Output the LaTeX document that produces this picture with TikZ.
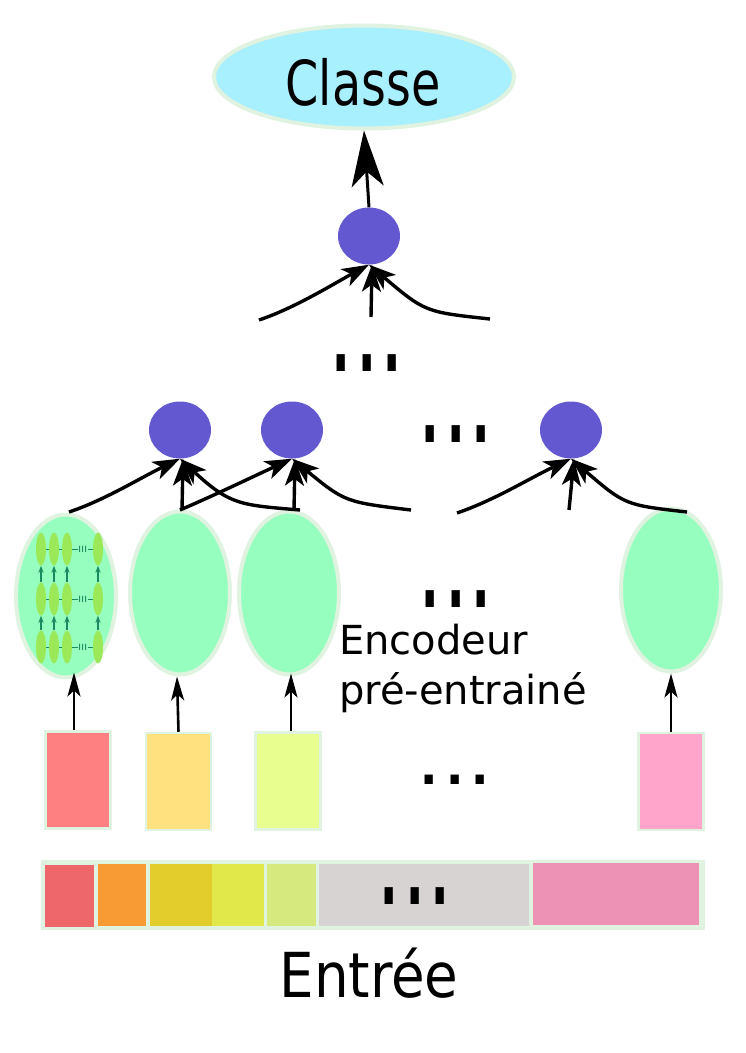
\documentclass[tikz,border=0pt]{standalone}
\usepackage{graphicx}
\usepackage{fontspec}
\setmainfont{DejaVu Sans}
\newfontfamily\condfont{DejaVu Sans Condensed}
\usetikzlibrary{arrows.meta, shapes.geometric}
\definecolor{classecol}{HTML}{A9F0FF}
\definecolor{bordercol}{HTML}{E0F2E0}
\definecolor{unitcol}{HTML}{6358D0}
\definecolor{enccol}{HTML}{96FFC0}
\definecolor{minicol}{HTML}{9BE858}
\definecolor{minilink}{HTML}{1B8A5F}
\tikzset{
  unit/.style={ellipse, fill=unitcol, minimum width=62, minimum height=57, inner sep=0},
  encoder/.style={ellipse, draw=bordercol, line width=4, fill=enccol, minimum width=100, minimum height=163, inner sep=0},
  chunk/.style={draw=bordercol, line width=2.5, minimum width=65, minimum height=97, inner sep=0},
  slice/.style={minimum height=62, inner sep=0, anchor=west},
  link/.style={line width=3pt, -{Stealth[length=56pt, width=32pt, inset=15pt]}},
  feed/.style={line width=3.4pt, -{Stealth[length=27pt, width=19pt, inset=7pt]}},
  lift/.style={line width=2.6pt, -{Stealth[length=24pt, width=13pt, inset=6pt]}},
  dotsrow/.style={inner sep=0, anchor=south},
  miniunit/.style={ellipse, fill=minicol, minimum width=10, minimum height=33, inner sep=0},
  minifeed/.style={draw=minilink, line width=1.2pt, -{Stealth[length=7pt, width=5pt]}},
}
\newcommand{\bardots}{\fontsize{40}{40}\selectfont\scalebox{2}[3.4]{...}}
\newcommand{\lowdots}{\fontsize{40}{40}\selectfont\scalebox{2}[1.9]{...}}
\newcommand{\minidots}{\fontsize{10}{10}\selectfont\scalebox{1}[5]{...}}
\begin{document}
\begin{tikzpicture}[x=1pt, y=-1pt]
    \useasboundingbox (0, 0) rectangle (745, 1053);
    \node[ellipse, draw=bordercol, line width=4, fill=classecol, minimum width=300, minimum height=103, inner sep=0] (classe) at (364, 77) {};
    \node[inner sep=0] (classetxt) at (363, 82) {\condfont\fontsize{62}{62}\selectfont\scalebox{.855}[1]{Classe}};

    \node[unit] (top) at (369, 236) {};
    \node[unit] (u1) at (180, 430) {};
    \node[unit] (u2) at (292, 430) {};
    \node[unit] (u3) at (571, 430) {};

    \node[encoder] (e1) at (66, 596) {};
    \node[encoder] (e2) at (180, 593) {};
    \node[encoder] (e3) at (289, 593) {};
    \node[encoder] (e4) at (671, 590) {};

    \node[chunk, fill=red!50] (c1) at (78, 780) {};
    \node[chunk, fill={rgb,255:red,255;green,225;blue,128}] (c2) at (178.5, 781.5) {};
    \node[chunk, fill={rgb,255:red,232;green,255;blue,144}] (c3) at (288, 781) {};
    \node[chunk, fill={rgb,255:red,255;green,165;blue,203}] (c4) at (671, 781.5) {};

    \fill[bordercol] (41, 860) rectangle (705, 930);
    \node[slice, fill={rgb,255:red,238;green,104;blue,107}, minimum width=49] (s1) at (45, 896) {};
    \node[slice, fill={rgb,255:red,248;green,155;blue,52}, minimum width=48] (s2) at (98, 895) {};
    \node[slice, fill={rgb,255:red,227;green,205;blue,45}, minimum width=62] (s3) at (150, 895) {};
    \node[slice, fill={rgb,255:red,224;green,232;blue,74}, minimum width=52] (s4) at (212, 895) {};
    \node[slice, fill={rgb,255:red,214;green,233;blue,126}, minimum width=49] (s5) at (267, 895) {};
    \node[slice, fill={rgb,255:red,215;green,211;blue,211}, minimum width=210] (s6) at (319, 895) {};
    \node[slice, fill={rgb,255:red,237;green,145;blue,181}, minimum width=166] (s7) at (533, 894) {};

    \node[dotsrow] (d1) at (367, 372) {\bardots};
    \node[dotsrow] (d2) at (456, 443) {\bardots};
    \node[dotsrow] (d3) at (456, 608) {\bardots};
    \node[dotsrow] (d4) at (455, 785) {\lowdots};
    \node[dotsrow] (d5) at (415, 905) {\bardots};

    \node[anchor=base west, inner sep=0] (enc) at (339, 654) {\fontsize{40}{40}\selectfont Encodeur};
    \node[anchor=base west, inner sep=0] (pre) at (339, 704) {\fontsize{40}{40}\selectfont pré-entrainé};
    \node[inner sep=0] (entree) at (369, 973) {\condfont\fontsize{62}{62}\selectfont\scalebox{.98}[1]{Entrée}};

    \coordinate (a1) at (69, 512);
    \coordinate (a2) at (182, 510);
    \coordinate (a3) at (300, 510);
    \coordinate (b1) at (180, 510);
    \coordinate (b2) at (294, 510);
    \coordinate (b3) at (411, 510);
    \coordinate (f1) at (457, 513);
    \coordinate (f2) at (569, 510);
    \coordinate (f3) at (687, 512);
    \coordinate (t1) at (259, 320);
    \coordinate (t2) at (371, 317);
    \coordinate (t3) at (490, 319);

    \draw[feed] (a1) .. controls (105, 500) and (140, 478) .. (u1.south);
    \draw[feed] (a2) -- ([xshift=3pt]u1.south);
    \draw[feed] (a3) .. controls (240, 505) and (230, 505) .. (u1.south);
    \draw[feed] (b1) .. controls (215, 495) and (250, 478) .. (u2.south);
    \draw[feed] (b2) -- ([xshift=3pt]u2.south);
    \draw[feed] (b3) .. controls (345, 502) and (345, 502) .. (u2.south);
    \draw[feed] (f1) .. controls (495, 500) and (530, 478) .. (u3.south);
    \draw[feed] (f2) -- ([xshift=3pt]u3.south);
    \draw[feed] (f3) .. controls (625, 505) and (625, 505) .. (u3.south);
    \draw[feed] (t1) .. controls (295, 308) and (335, 283) .. (top.south);
    \draw[feed] (t2) -- ([xshift=3pt]top.south);
    \draw[feed] (t3) .. controls (425, 312) and (425, 312) .. (top.south);

    \draw[link] (top.north) -- (classe.south);
    \draw[lift] ([xshift=-4pt]c1.north) -- ([xshift=8pt, yshift=7pt]e1.south);
    \draw[lift] (c2.north) -- ([xshift=-3pt]e2.south);
    \draw[lift] ([xshift=3pt]c3.north) -- ([xshift=2pt, yshift=3pt]e3.south);
    \draw[lift] (c4.north) -- (e4.south);

    \foreach \row/\yy in {r/549, s/599, t/647} {
      \foreach \col/\xx in {p/41, q/54, v/67, w/98}
        \node[miniunit] (m\row\col) at (\xx, \yy) {};
      \draw[minilink, line width=.8] (m\row p) -- (m\row q) (m\row q) -- (m\row v);
      \node[inner sep=0, text=minilink] (md\row) at (83, \yy) {\minidots};
      \draw[minilink, line width=.8] (m\row v) -- (md\row) (md\row) -- (m\row w);
    }
    \foreach \col in {p, q, v, w} {
      \draw[minifeed] (ms\col) -- (mr\col);
      \draw[minifeed] (mt\col) -- (ms\col);
    }
\end{tikzpicture}
\end{document}
